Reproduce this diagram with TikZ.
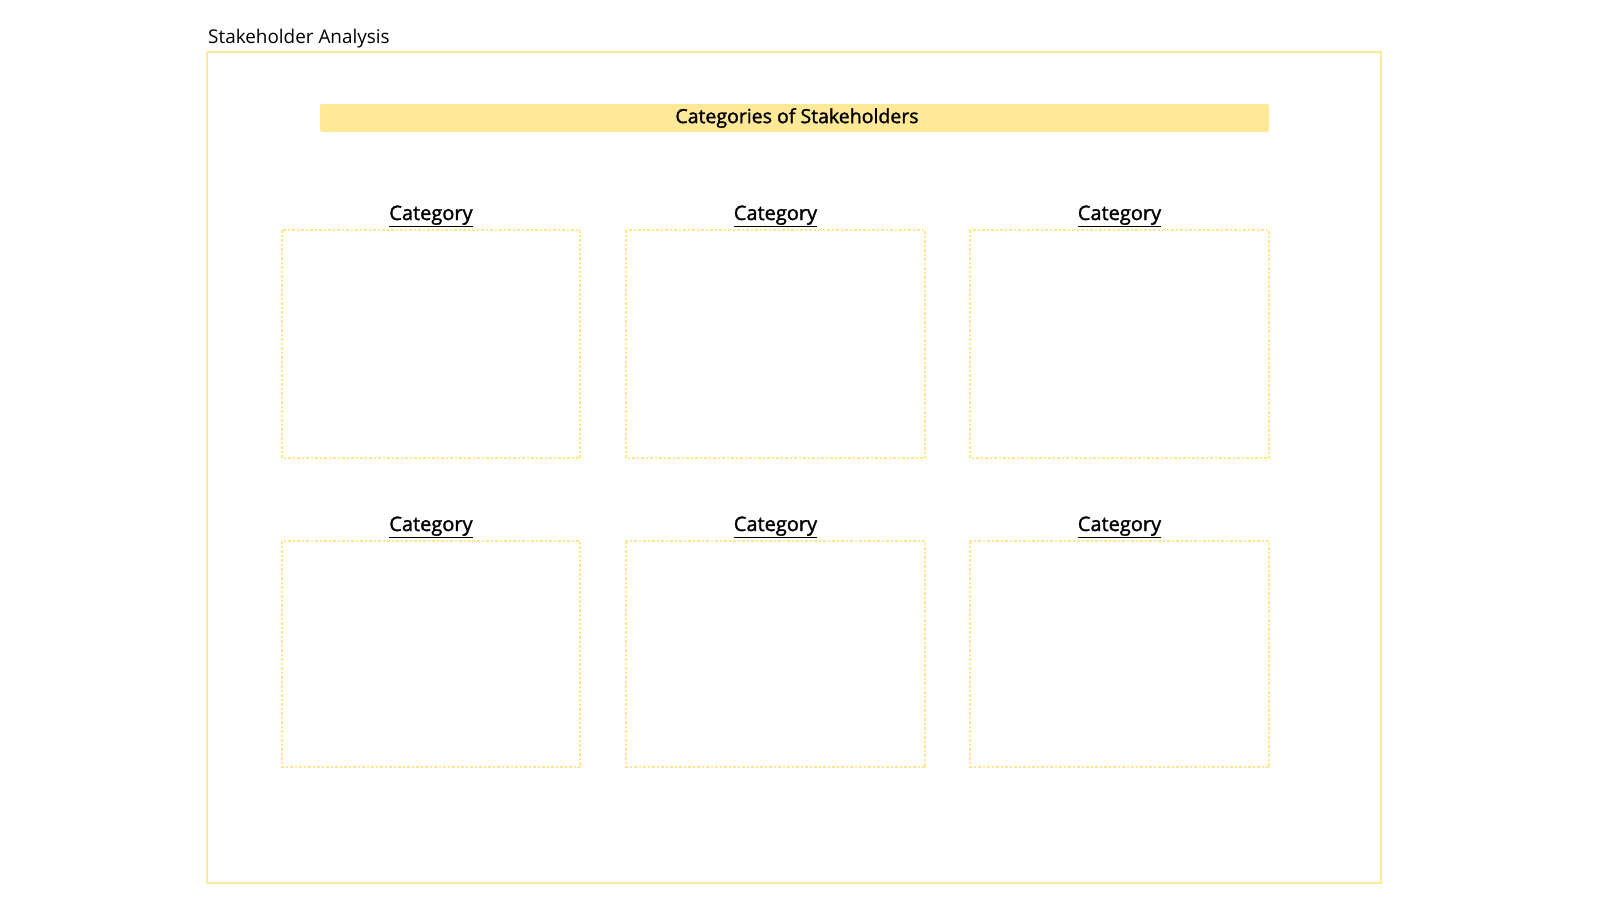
\documentclass[tikz,border=0pt]{standalone}
\usepackage{fontspec}
\setmainfont{Open Sans}
\newfontfamily\semib{Open Sans}[FakeBold=1.5]
\definecolor{frame}{HTML}{FFEA9C}
\definecolor{band}{HTML}{FFE999}
\definecolor{dotc}{HTML}{FFE68A}
\begin{document}
\begin{tikzpicture}[x=1pt,y=-1pt,
  cbox/.style={draw=dotc,line width=2.5pt,dotted},
  clab/.style={font=\semib\fontsize{20}{23}\selectfont,anchor=base},
]
\useasboundingbox (0,0) rectangle (1600,900);
\node[anchor=base west,font=\fontsize{18.9}{22}\selectfont,inner sep=0] (t) at (208,43) {Stakeholder Analysis};
\draw[frame,line width=2pt] (207,52) rectangle (1381,883);
\fill[band,rounded corners=2pt] (320,104) rectangle (1269,132);
\node[font=\semib\fontsize{19.5}{22}\selectfont] (b) at (797,118) {Categories of Stakeholders};
\foreach \r/\ya/\yb/\yl in {1/230/458/220,2/541/767/531}{
  \foreach \c/\xa/\xb in {1/282/580,2/626/925,3/970/1269}{
    \draw[cbox] (\xa,\ya) rectangle (\xb,\yb);
    \node[clab] (l\r\c) at ({(\xa+\xb)/2},\yl) {\underline{Category}};
  }
}
\end{tikzpicture}
\end{document}
